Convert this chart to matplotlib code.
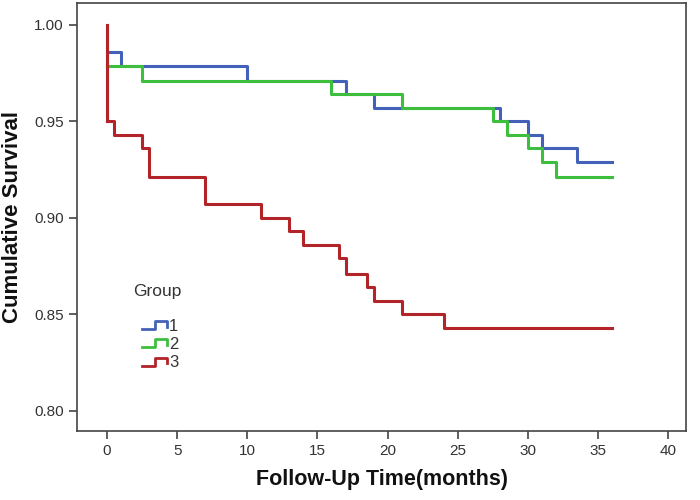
import matplotlib
matplotlib.use("Agg")
import matplotlib.pyplot as plt
from matplotlib.lines import Line2D
from matplotlib.legend_handler import HandlerBase

# Kaplan-Meier step data (time of drop, survival after drop)
g1_time = [0, 1, 10, 17, 19, 28, 30, 31, 33.5, 36]
g1_surv = [0.986, 0.979, 0.971, 0.964, 0.957, 0.950, 0.943, 0.936, 0.929, 0.929]

g2_time = [0, 2.5, 16, 21, 27.5, 28.5, 30, 31, 32, 36]
g2_surv = [0.979, 0.971, 0.964, 0.957, 0.950, 0.943, 0.936, 0.929, 0.921, 0.921]

g3_time = [0, 0, 0.5, 2.5, 3, 7, 11, 13, 14, 16.5, 17, 18.5, 19, 21, 24, 36]
g3_surv = [1.000, 0.950, 0.943, 0.936, 0.921, 0.907, 0.900, 0.893, 0.886, 0.879,
           0.871, 0.864, 0.857, 0.850, 0.843, 0.843]

labels = ["1", "2", "3"]
colors = ["#4361B8", "#3DBF3D", "#B22428"]

plt.rcParams["font.family"] = ["Liberation Sans", "DejaVu Sans"]


class StepHandler(HandlerBase):
    def create_artists(self, legend, orig_handle, xdescent, ydescent,
                       width, height, fontsize, trans):
        w, h = width, height
        xs = [0, 0.5 * w, 0.5 * w, w, w]
        ys = [0.1 * h, 0.1 * h, 0.85 * h, 0.85 * h, 0.3 * h]
        line = Line2D([x - xdescent for x in xs], [y - ydescent for y in ys],
                      color=orig_handle.get_color(), lw=2)
        line.set_transform(trans)
        return [line]


fig = plt.figure(figsize=(7, 5), dpi=100)
ax = fig.add_axes([0.11, 0.138, 0.87, 0.856])

handles = []
for t, s, c in zip([g1_time, g2_time, g3_time], [g1_surv, g2_surv, g3_surv], colors):
    ln, = ax.step(t, s, where="post", color=c, lw=2.2)
    handles.append(ln)
# group 3 starts at 1.00
ax.plot([0, 0], [1.0, g3_surv[1]], color=colors[2], lw=2.2)

ax.set_xlim(-2.14, 41.27)
ax.set_ylim(0.7896, 1.0114)
ax.set_xticks(range(0, 41, 5))
ax.set_yticks([0.80, 0.85, 0.90, 0.95, 1.00])
ax.set_yticklabels(["0.80", "0.85", "0.90", "0.95", "1.00"])
ax.tick_params(direction="out", length=6, width=1.2, colors="#444444",
               labelsize=11, labelcolor="#333333")
for sp in ax.spines.values():
    sp.set_color("#444444")
    sp.set_linewidth(1.2)

ax.set_xlabel("Follow-Up Time(months)", fontsize=15.5, fontweight="bold",
              color="#111111", labelpad=8)
ax.set_ylabel("Cumulative Survival", fontsize=16, fontweight="bold",
              color="#111111", labelpad=8)

ax.text(0.092, 0.325, "Group", transform=ax.transAxes, fontsize=12.5,
        color="#333333", va="center", ha="left")
leg = ax.legend(handles, labels, loc="upper left",
                bbox_to_anchor=(0.087, 0.29), frameon=False, fontsize=12,
                handler_map={Line2D: StepHandler()}, borderpad=0.2,
                handlelength=1.55, handleheight=0.6, handletextpad=0.1,
                labelspacing=0.2)
for txt in leg.get_texts():
    txt.set_color("#333333")

fig.savefig("out.png", dpi=100)
